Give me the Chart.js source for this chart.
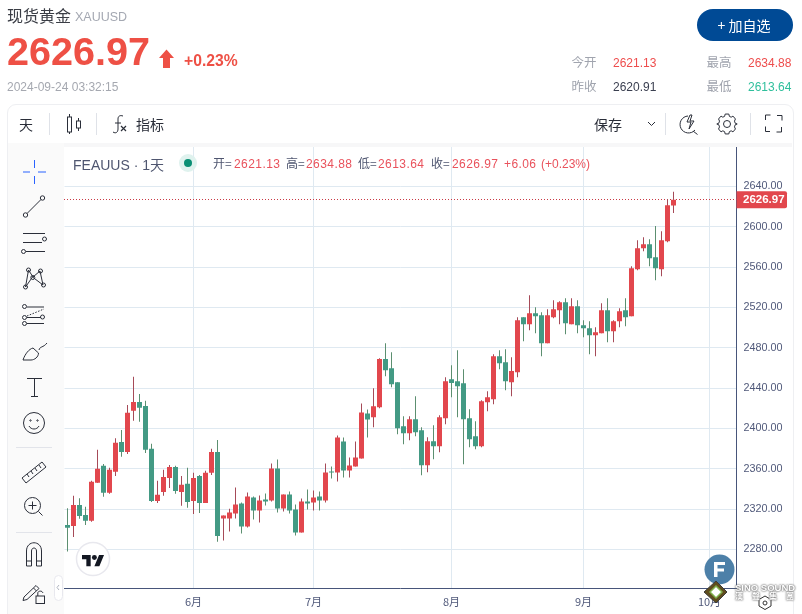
<!DOCTYPE html>
<html lang="zh"><head><meta charset="utf-8">
<script src="https://cdn.jsdelivr.net/npm/chart.js@4/dist/chart.umd.js"></script>
<style>
html,body{margin:0;padding:0;background:#fff;overflow:hidden}
#wrap{position:relative;width:802px;height:614px;overflow:hidden;font-family:"Liberation Sans","Noto Sans CJK SC",sans-serif}
#wrap>span,#wrap>b{position:absolute;white-space:nowrap;line-height:1}
canvas{position:absolute;left:0;top:0}
svg{position:absolute;left:0;top:0}
.cjk{font-family:"Noto Sans CJK SC",sans-serif}
.g{color:#a0a4ae;font-size:12.5px}.r{color:#ee4d4d}.lg{font-size:12px;letter-spacing:.42px;color:#e9525c}.ll{font-size:12px;color:#4f5670}
</style></head><body><div id="wrap">
<div style="position:absolute;left:7px;top:104px;width:785px;height:530px;border:1px solid #eeeff2;border-radius:9px;box-sizing:content-box"></div>
<div style="position:absolute;left:8px;top:143px;width:784px;height:4px;background:#f7f7f8"></div>
<div style="position:absolute;left:8px;top:143px;width:56px;height:471px;background:#fafafa"></div>
<canvas id="c" width="802" height="614"></canvas>

<span class="cjk" style="left:7px;top:7px;font-size:16px;color:#3a3d45">现货黄金</span>
<span style="left:75px;top:11px;font-size:12.5px;color:#a4a8b2">XAUUSD</span>
<b style="left:7px;top:32px;font-size:39.6px;color:#ee5045">2626.97</b>
<b style="left:184px;top:53px;font-size:15.7px;color:#ee5045;font-weight:600">+0.23%</b>
<span style="left:7px;top:81px;font-size:12px;color:#a5a8b0">2024-09-24 03:32:15</span>
<div style="position:absolute;left:697px;top:9px;width:96px;height:32px;border-radius:16px;background:#004a95"></div>
<span class="cjk" style="left:717.5px;top:18px;font-size:14px;color:#fff">+ 加自选</span>
<span class="cjk g" style="left:571.5px;top:56px">今开</span><span class="r" style="left:613px;top:57px;font-size:12px">2621.13</span>
<span class="cjk g" style="left:706.5px;top:56px">最高</span><span class="r" style="left:748px;top:57px;font-size:12px">2634.88</span>
<span class="cjk g" style="left:571.5px;top:80px">昨收</span><span style="left:613px;top:81px;font-size:12px;color:#3a3f50">2620.91</span>
<span class="cjk g" style="left:706.5px;top:80px">最低</span><span style="left:748px;top:81px;font-size:12px;color:#2fbf9c">2613.64</span>

<span class="cjk" style="left:19px;top:117px;font-size:14px;color:#2a2e39">天</span>
<span class="cjk" style="left:136px;top:117px;font-size:14px;color:#2a2e39">指标</span>
<span class="cjk" style="left:594px;top:117px;font-size:14px;color:#2a2e39">保存</span>

<span style="left:73px;top:157px;font-size:14px;color:#4f5670">FEAUUS · 1<span class="cjk">天</span></span>
<span class="ll cjk" style="left:213px;top:157px">开=</span><span class="lg" style="left:234px;top:158px">2621.13</span>
<span class="ll cjk" style="left:286px;top:157px">高=</span><span class="lg" style="left:306px;top:158px">2634.88</span>
<span class="ll cjk" style="left:358px;top:157px">低=</span><span class="lg" style="left:378px;top:158px">2613.64</span>
<span class="ll cjk" style="left:431px;top:157px">收=</span><span class="lg" style="left:452px;top:158px">2626.97</span>
<span class="lg" style="left:504px;top:158px">+6.06</span><span class="lg" style="left:541px;top:158px;letter-spacing:0">(+0.23%)</span>

<svg width="802" height="614" viewBox="0 0 802 614" fill="none" stroke="#2a2e39" stroke-width="1">
 <path d="M163 68V58h-4l7.500-8.500 7.500 8.500h-4v10z" fill="#ee5045" stroke="none"/>
 <path d="M49.5 113v22M96.5 113v22M665.5 113v22M750.5 113v22" stroke="#dfe2e8"/>
 <path d="M69.5 114v3M69.5 132v2M78.5 118v3M78.5 128v3"/><rect x="67.5" y="117" width="4" height="15"/><rect x="76.5" y="121" width="4" height="7"/>
 <path d="M113 132c3 2 5 0 5-3V119c0-3 2-4 5-3M115 123h6"/><path d="M121 126l5 5M126 126l-5 5" stroke-width="1.2"/>
 <path d="M648 122l3.5 3.5 3.5-3.5"/>
 <path d="M688 116a8.500 8.500 0 1 0 7 14M693 131l4.500 3.500M690 115l-3 7h4l-2 7 5-8h-4l2-6z"/>
 <circle cx="727" cy="124" r="3.500"/>
 <path vector-effect="non-scaling-stroke" d="M724.500 114.500h5l.8 2.700 2.500 1 2.500-1.300 3.400 3.400-1.300 2.500 1 2.500 2.700.8v.2l-2.700.8-1 2.500 1.300 2.500-3.400 3.400-2.500-1.300-2.500 1-.8 2.700h-5l-.8-2.700-2.500-1-2.500 1.300-3.400-3.400 1.300-2.500-1-2.500-2.700-.8v-.2l2.700-.8 1-2.500-1.300-2.500 3.400-3.400 2.500 1.300 2.500-1z" transform="translate(727,124) scale(.72,.85) translate(-727,-126.2)"/>
 <path d="M765.500 120v-5h5M777 115.500h5v5M781.500 127v5h-5M770 131.500h-4.500v-5"/>

 <path d="M23 172h7M38 172h8M34.500 160v8M34.500 176v8" stroke="#2962ff"/>
 <circle cx="25.500" cy="215" r="2.200"/><circle cx="42.500" cy="198" r="2.200"/><path d="M27 213.500l14-14"/>
 <path d="M23 233.500h22M23 242.500h19M26 251.500h19"/><circle cx="44.500" cy="239" r="2"/><circle cx="23.500" cy="251.500" r="2"/>
 <path d="M25.500 287l3-17 4.500 7 7-6 3 14-10.500-8z"/><circle cx="25.500" cy="287" r="2"/><circle cx="28.500" cy="270" r="2"/><circle cx="32.800" cy="277.500" r="2"/><circle cx="40.500" cy="271" r="2"/><circle cx="43.500" cy="285" r="2"/>
 <path d="M27 307h17M27 317.500h14M27 323.500h17"/><circle cx="24.500" cy="306.500" r="2"/><circle cx="24.500" cy="317.500" r="2"/><circle cx="24.500" cy="323.500" r="2"/><circle cx="42.500" cy="317" r="2"/><path d="M27 316l17-7" stroke-dasharray="1.500 1.500"/>
 <path d="M23 360c2-6 6-11 10-12l5.500 5c0 4-4 7-7.500 7zM39 350c1-4 4-2 8-7"/>
 <path d="M27 378.500h15M34.500 378.500v18M31 396.500h7"/>
 <circle cx="34" cy="423" r="10.500"/><path d="M29 426c2 4 8 4 10 0"/><circle cx="30.500" cy="420.500" r=".7"/><circle cx="37.500" cy="420.500" r=".7"/>
 <path d="M16 447.500h36M16 532.500h36" stroke="#e2e4ea"/>
 <path d="M22 478l20-16 4 5-20 16zM27 474l2 3M31 471l2 3M35 468l2 3M39 465l2 3"/>
 <circle cx="32.500" cy="505.500" r="8"/><path d="M38.500 511.500l4 4M28.500 505.500h8M32.500 501.500v8"/>
 <path d="M26.500 566v-15c0-11 15-11 15 0v15h-5v-15c0-4-5-4-5 0v15zM26.500 561h5M36.500 561h5"/>
 <path d="M24 597l-1 3.500 4-1 12-11-3-3zM33.500 588l3 3"/><rect x="36" y="596" width="8.500" height="7.500"/><path d="M37.800 596v-3c0-2.500 5-2.500 5 0"/>
 <rect x="54.500" y="575.500" width="8" height="25" rx="4" stroke="#e8e8ee" fill="#fff"/><path d="M59 585l-2 2.500 2 2.500" stroke="#b0b4bf"/>

 <circle cx="188" cy="163" r="9" fill="#dff2ee" stroke="none"/><circle cx="188" cy="163" r="4" fill="#0a8f74" stroke="none"/>

 <circle cx="93" cy="559" r="16.500" fill="#fff" stroke="#e8e8ee" stroke-width="1.500"/>
 <g transform="translate(82,552.500) scale(.62)" fill="#131722" stroke="none"><path d="M14 22H7V11H0V4h14v18zM28 22h-8l7.500-18h8L28 22z"/><circle cx="20" cy="8" r="4"/></g>

 <circle cx="719.500" cy="569.500" r="15" fill="#4d80a8" stroke="none"/>
 <path d="M714 577v-15h11v3h-7.500v3.500h6.500v3h-6.500v5.500z" fill="#fff" stroke="none"/>
 <path d="M716 581l11 11-11 11-12-11z" fill="#5f4d1e" stroke="#3b3b3b"/><path d="M716 586l6 6-6 6-6-6z" fill="#fff" stroke="#7fb04a" stroke-width="1.500"/>
 <path d="M765 596l6 3.500v6.500l-6 3.500-6-3.500v-6.500z" stroke="#333"/><circle cx="765" cy="603" r="2" stroke="#333"/>
</svg>
<b style="left:735px;top:583px;font-size:9.5px;color:#fff;text-shadow:0 0 2px #666,0 0 2px #666">SINO SOUND</b>
<b class="cjk" style="left:735px;top:592px;font-size:8px;letter-spacing:9px;color:#fff;text-shadow:0 0 2px #666,0 0 2px #666">漢聲集團</b>
</div>
<script>
const dates=['05-03','05-06','05-07','05-08','05-09','05-10','05-13','05-14','05-15','05-16','05-17','05-20','05-21','05-22','05-23','05-24','05-27','05-28','05-29','05-30','05-31',
'06-03','06-04','06-05','06-06','06-07','06-10','06-11','06-12','06-13','06-14','06-17','06-18','06-19','06-20','06-21','06-24','06-25','06-26','06-27','06-28',
'07-01','07-02','07-03','07-04','07-05','07-08','07-09','07-10','07-11','07-12','07-15','07-16','07-17','07-18','07-19','07-22','07-23','07-24','07-25','07-26','07-29','07-30','07-31',
'08-01','08-02','08-05','08-06','08-07','08-08','08-09','08-12','08-13','08-14','08-15','08-16','08-19','08-20','08-21','08-22','08-23','08-26','08-27','08-28','08-29','08-30',
'09-02','09-03','09-04','09-05','09-06','09-09','09-10','09-11','09-12','09-13','09-16','09-17','09-18','09-19','09-20','09-23',
'09-24','09-25','09-26','09-27','09-30','10-01','10-02','10-03','10-04','10-07'];
const opens=[2304.4,2303.4,2324.2,2314.3,2308.4,2346.1,2363.0,2336.2,2357.0,2386.7,2376.8,2417.5,2426.4,2422.4,2379.8,2328.2,2337.1,2351.0,2361.9,2337.1,2345.1,2328.2,2353.0,2326.2,2356.0,2376.8,
2310.7,2310.7,2315.7,2325.6,2302.8,2331.6,2318.7,2329.6,2328.6,2360.3,2320.6,2334.5,2319.7,2296.8,2327.6,2326.6,2332.5,2328.6,2357.3,2356.4,2387.1,2358.3,2362.3,2370.2,2414.9,
2411.2,2421.1,2468.8,2459.8,2445.9,2402.3,2395.4,2409.2,2398.3,2363.6,2387.4,2382.5,2410.2,2448.9,2446.9,2444.9,2410.2,2392.4,2382.5,2426.1,2429.1,2471.7,2465.8,2445.9,2455.9,
2510.4,2503.5,2514.4,2512.4,2484.6,2510.4,2517.3,2525.3,2503.5,2521.3,2502.5,2499.5,2492.6,2494.5,2517.3,2496.5,2506.4,2517.3,2511.4,2558.0,2578.8,2582.8,2569.9,2558.0,2585.8,2621.13];
const closes=[2301.5,2324.2,2313.3,2308.4,2347.1,2360.0,2336.2,2359.0,2385.8,2376.8,2415.5,2426.4,2420.5,2378.8,2328.2,2334.2,2352.0,2361.9,2338.1,2344.1,2327.2,2351.0,2326.2,2356.0,2376.8,2293.5,
2313.7,2316.7,2324.6,2302.8,2332.5,2318.7,2328.6,2327.6,2360.3,2320.6,2334.5,2318.7,2296.8,2327.6,2325.6,2331.6,2328.6,2356.4,2356.4,2391.1,2358.3,2363.3,2371.2,2415.9,2408.9,
2422.1,2468.8,2457.8,2444.0,2400.3,2395.4,2409.2,2396.4,2363.6,2387.4,2382.5,2411.2,2446.9,2445.0,2442.0,2409.2,2389.4,2382.5,2427.1,2431.1,2471.7,2464.8,2446.9,2456.9,2507.4,
2503.5,2514.4,2511.4,2484.6,2512.4,2518.3,2525.3,2504.5,2521.3,2502.5,2499.5,2492.6,2495.5,2517.3,2496.5,2506.4,2516.4,2510.4,2559.0,2578.8,2582.8,2568.9,2559.0,2586.8,2621.5,2626.97];
const highs=[2321.0,2333.2,2330.9,2322.3,2348.1,2378.8,2364.9,2361.0,2390.4,2398.6,2423.4,2451.2,2434.3,2427.4,2384.8,2348.1,2359.0,2363.9,2363.0,2353.0,2361.0,2356.0,2354.0,2358.0,2379.8,2388.7,
2313.7,2320.3,2341.5,2326.6,2336.5,2332.5,2333.5,2335.5,2365.3,2369.2,2334.5,2337.5,2324.6,2330.6,2339.5,2338.5,2337.5,2365.3,2362.3,2393.1,2391.1,2371.2,2387.1,2424.8,2418.8,
2440.0,2469.7,2484.6,2475.7,2445.9,2412.2,2412.2,2432.1,2401.3,2391.4,2403.3,2413.2,2450.9,2462.8,2477.7,2458.8,2419.2,2407.3,2428.1,2437.0,2473.7,2477.7,2478.7,2470.7,2510.4,
2510.4,2532.2,2520.3,2515.4,2518.3,2527.3,2526.3,2529.2,2529.2,2527.3,2507.4,2506.4,2500.5,2524.3,2529.2,2507.4,2519.3,2529.2,2561.0,2586.8,2589.7,2587.8,2600.7,2595.7,2627.4,2634.88];
const lows=[2278.0,2292.5,2310.4,2304.4,2307.4,2346.1,2332.2,2335.2,2353.0,2371.9,2374.8,2407.6,2406.6,2375.8,2327.2,2326.2,2333.2,2341.1,2335.2,2323.3,2321.3,2315.3,2316.3,2326.2,2354.0,2287.6,
2288.9,2297.8,2310.7,2295.9,2301.8,2309.7,2306.8,2323.6,2327.6,2316.7,2317.7,2315.7,2293.9,2296.8,2319.7,2318.7,2318.7,2326.6,2350.4,2347.4,2351.4,2351.4,2362.3,2370.2,2391.1,
2401.3,2420.2,2451.9,2441.0,2394.4,2384.4,2388.4,2392.4,2353.7,2356.7,2369.6,2376.5,2404.3,2431.1,2411.2,2364.6,2381.5,2379.5,2381.5,2417.2,2424.1,2458.8,2438.0,2432.1,2450.9,
2486.6,2497.5,2494.5,2471.7,2484.6,2509.4,2503.5,2493.5,2503.5,2494.5,2490.6,2473.7,2471.7,2494.5,2485.6,2485.6,2500.5,2501.5,2511.4,2557.0,2575.9,2561.0,2547.1,2551.1,2584.8,2613.64];
const yTicks=[2280,2320,2360,2400,2440,2480,2520,2560,2600,2640];
const monthStarts=['06-03','07-01','08-01','09-02','10-01'];
const monthLabels=['6月','7月','8月','9月','10月'];
const lastPrice=2626.97;

const UP='#e2474d',DOWN='#439a84',UPW='#a64a58',DOWNW='#5c8f70',AXIS='#47557a',GRID='#dfe9f1',TXT='#50597a';
const up=closes.map((c,i)=>c>=opens[i]);
const pricePlugin={id:'price',
 beforeDatasetsDraw(ch){const y=Math.floor(ch.scales.y.getPixelForValue(lastPrice))+.5,a=ch.chartArea,x=ch.ctx;
  x.save();x.strokeStyle='#c93a46';x.lineWidth=1;x.setLineDash([1,2]);x.beginPath();x.moveTo(Math.floor(a.left),y);x.lineTo(a.right,y);x.stroke();x.restore();},
 afterDraw(ch){const y=ch.scales.y.getPixelForValue(lastPrice),a=ch.chartArea,x=ch.ctx;
  x.save();x.fillStyle=UP;x.beginPath();x.roundRect(a.right,y-8.5,50.5,17,[0,2,2,0]);x.fill();
  x.fillStyle='#fff';x.font='bold 11.5px "Liberation Sans"';x.textAlign='left';x.textBaseline='middle';x.fillText(lastPrice.toFixed(2),a.right+6.5,y+.5);x.restore();}};
new Chart(document.getElementById('c'),{
 type:'bar',
 data:{labels:dates,datasets:[
  {label:'body',data:opens.map((o,i)=>[o,closes[i]]),backgroundColor:up.map(u=>u?UP:DOWN),barThickness:5,grouped:false,inflateAmount:0,borderWidth:0,order:1},
  {label:'wick',data:lows.map((l,i)=>[l,highs[i]]),backgroundColor:up.map(u=>u?UPW:DOWNW),barThickness:1,grouped:false,inflateAmount:0,borderWidth:0,order:2}
 ]},
 options:{responsive:false,animation:false,devicePixelRatio:1,
  layout:{padding:{left:64.5,right:8.5,top:147,bottom:0}},
  plugins:{legend:{display:false},tooltip:{enabled:false}},
  scales:{
   x:{type:'category',offset:true,
    afterBuildTicks(s){s.ticks=monthStarts.map(m=>({value:dates.indexOf(m)}));},
    afterFit(s){s.height=25.5;},
    grid:{offset:false,color:GRID,lineWidth:1,drawTicks:false},
    border:{display:true,color:AXIS,width:1},
    ticks:{autoSkip:false,maxRotation:0,padding:7,color:TXT,font:{size:11,family:'"Noto Sans CJK SC"'},
     callback(v){return monthLabels[monthStarts.indexOf(this.getLabelForValue(v))];}}},
   y:{position:'right',min:2241.32,max:2679.17,
    afterBuildTicks(s){s.ticks=yTicks.map(v=>({value:v}));},
    afterFit(s){s.width=57;},
    grid:{color:GRID,lineWidth:1,drawTicks:false},
    border:{display:true,color:AXIS,width:1},
    ticks:{autoSkip:false,padding:7,color:TXT,align:'center',crossAlign:'near',font:{size:10.8,family:'"Liberation Sans"'},
     callback(v){return v.toFixed(2);}}}
  }},
 plugins:[pricePlugin]});
</script></body></html>
